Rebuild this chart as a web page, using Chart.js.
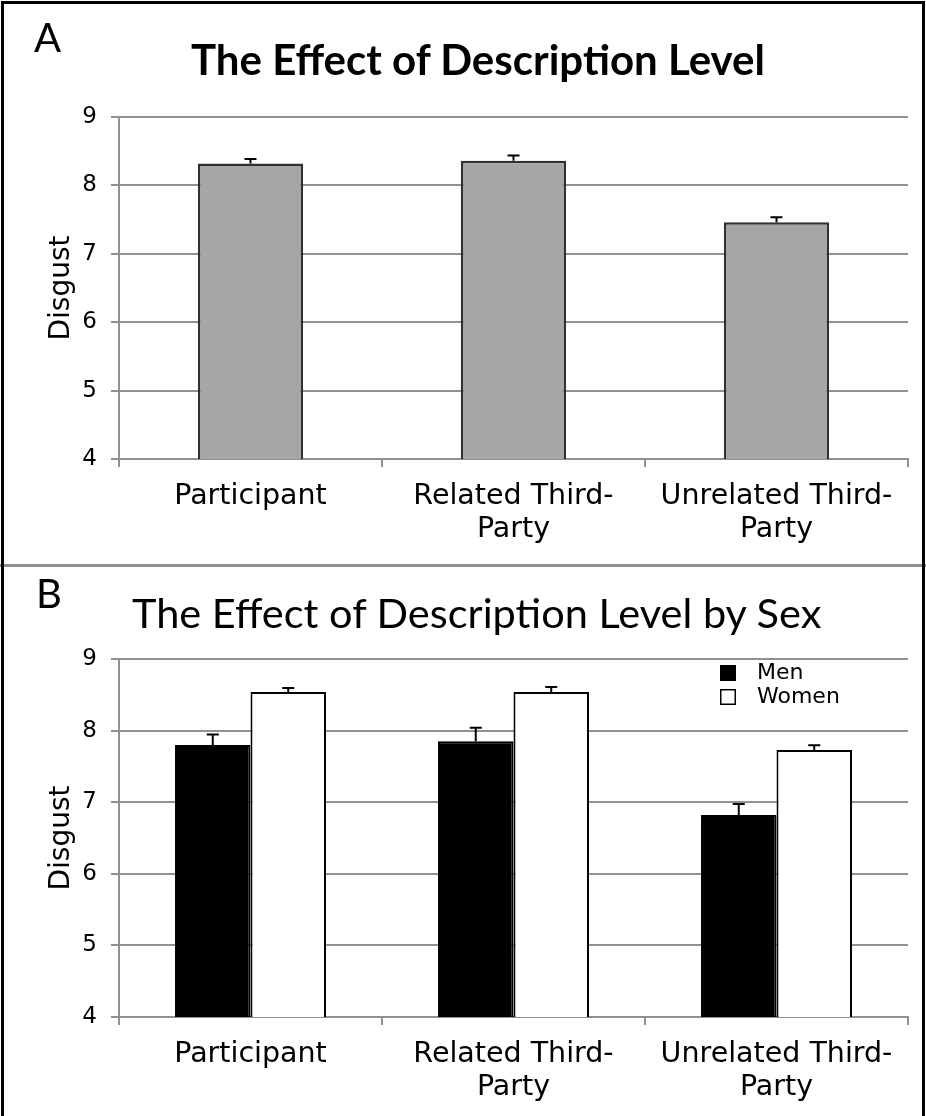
<!DOCTYPE html>
<html>
<head>
<meta charset="utf-8">
<script src="https://cdn.jsdelivr.net/npm/chart.js@4.4.1/dist/chart.umd.min.js"></script>
<style>
  html, body { margin: 0; padding: 0; background: #fff; }
  #page { position: relative; width: 926px; height: 1116px; overflow: hidden; }
  #frame { position: absolute; left: 1px; top: 1px; width: 924px; height: 1130px; border: 3px solid #000; box-sizing: border-box; }
  #divider { position: absolute; left: 0; top: 564px; width: 926px; height: 3px; background: #8f8f8f; }
  canvas { position: absolute; left: 0; }
  #chartA { top: 0; }
  #chartB { top: 565px; }
  .txt { position: absolute; font-family: Lato, sans-serif; color: #000; white-space: nowrap; line-height: 1; }
  #letterA { left: 34px; top: 17px; font-size: 40px; }
  #letterB { left: 36px; top: 573px; font-size: 40px; }
  #titleA { left: 191px; top: 38px; font-size: 42px; font-weight: bold; }
  #titleB { left: 132px; top: 592px; font-size: 41.5px; }
</style>
</head>
<body>
<div id="page">
  <canvas id="chartA" width="926" height="565"></canvas>
  <canvas id="chartB" width="926" height="551"></canvas>
  <div id="divider"></div>
  <div id="frame"></div>
  <div class="txt" id="letterA">A</div>
  <div class="txt" id="letterB">B</div>
  <div class="txt" id="titleA">The Effect of Description Level</div>
  <div class="txt" id="titleB">The Effect of Description Level by Sex</div>
</div>
<script>
const categories = [['Participant'], ['Related Third-', 'Party'], ['Unrelated Third-', 'Party']];
const yTicks = [4, 5, 6, 7, 8, 9];

const overallMeans = [8.32, 8.36, 7.46];
const overallErr = [0.065, 0.077, 0.075];

const seriesNames = ['Men', 'Women'];
const menMeans = [7.80, 7.85, 6.82];
const menErr = [0.145, 0.19, 0.154];
const womenMeans = [8.54, 8.54, 7.73];
const womenErr = [0.056, 0.07, 0.064];

const gridGray = '#919191';
const font = 'DejaVu Sans';

// upward error bars, from each bar top
const errorBars = {
  id: 'errorBars',
  afterDatasetsDraw(chart) {
    const ctx = chart.ctx;
    const yScale = chart.scales.y;
    chart.data.datasets.forEach((ds, i) => {
      const meta = chart.getDatasetMeta(i);
      meta.data.forEach((bar, j) => {
        const top = yScale.getPixelForValue(ds.data[j] + ds.errors[j]);
        ctx.save();
        ctx.strokeStyle = '#000';
        ctx.lineWidth = 2;
        ctx.beginPath();
        ctx.moveTo(bar.x, bar.y);
        ctx.lineTo(bar.x, top);
        ctx.moveTo(bar.x - 6, top);
        ctx.lineTo(bar.x + 6, top);
        ctx.stroke();
        ctx.restore();
      });
    });
  }
};

// small legend box at the top right of the plot
const boxLegend = {
  id: 'boxLegend',
  afterDraw(chart) {
    const opts = chart.options.plugins.boxLegend;
    if (!opts || !opts.display) return;
    const ctx = chart.ctx;
    ctx.save();
    ctx.font = '22px ' + font;
    ctx.textBaseline = 'middle';
    chart.data.datasets.forEach((ds, i) => {
      const y = opts.y + i * 24;
      ctx.fillStyle = ds.backgroundColor;
      ctx.fillRect(opts.x, y - 8, 16, 16);
      ctx.strokeStyle = '#000';
      ctx.lineWidth = 1.5;
      ctx.strokeRect(opts.x + 0.75, y - 7.25, 14.5, 14.5);
      ctx.fillStyle = '#000';
      ctx.fillText(ds.label, opts.x + 37, y);
    });
    ctx.restore();
  }
};

function makeOptions(xHeight, padTop, legend) {
  return {
    responsive: false,
    animation: false,
    layout: { padding: { top: padTop, right: 18, left: 0, bottom: 0 } },
    plugins: {
      legend: { display: false },
      tooltip: { enabled: false },
      boxLegend: legend
    },
    scales: {
      x: {
        grid: { offset: true, drawOnChartArea: false, drawTicks: true, tickLength: 8, color: gridGray, lineWidth: 2 },
        border: { display: true, color: gridGray, width: 2 },
        ticks: { color: '#000', font: { family: font, size: 28.5, lineHeight: 1.15 }, padding: 13, maxRotation: 0, autoSkip: false },
        afterFit: scale => { scale.height = xHeight; }
      },
      y: {
        min: 4,
        max: 9,
        afterBuildTicks: scale => { scale.ticks = yTicks.map(v => ({ value: v })); },
        grid: { tickLength: 8, color: gridGray, lineWidth: 2 },
        border: { display: true, color: gridGray, width: 2 },
        ticks: { color: '#000', font: { family: font, size: 23 }, padding: 14 },
        title: { display: true, text: 'Disgust', color: '#000', font: { family: font, size: 28 }, padding: { top: 45, bottom: 0 } },
        afterFit: scale => { scale.width = 119; }
      }
    }
  };
}

new Chart(document.getElementById('chartA'), {
  type: 'bar',
  data: {
    labels: categories,
    datasets: [{
      label: 'All',
      data: overallMeans,
      errors: overallErr,
      backgroundColor: '#a6a6a6',
      borderColor: '#303030',
      borderWidth: 2.5,
      barPercentage: 0.4,
      categoryPercentage: 1
    }]
  },
  options: makeOptions(106, 117, { display: false }),
  plugins: [errorBars, boxLegend]
});

new Chart(document.getElementById('chartB'), {
  type: 'bar',
  data: {
    labels: categories,
    datasets: [{
      label: seriesNames[0],
      data: menMeans,
      errors: menErr,
      backgroundColor: '#000000',
      borderColor: '#000000',
      borderWidth: 2,
      barPercentage: 1,
      categoryPercentage: 0.574
    }, {
      label: seriesNames[1],
      data: womenMeans,
      errors: womenErr,
      backgroundColor: '#ffffff',
      borderColor: '#000000',
      borderWidth: 2,
      barPercentage: 1,
      categoryPercentage: 0.574
    }]
  },
  options: makeOptions(99, 94, { display: true, x: 720, y: 108 }),
  plugins: [errorBars, boxLegend]
});
</script>
</body>
</html>
